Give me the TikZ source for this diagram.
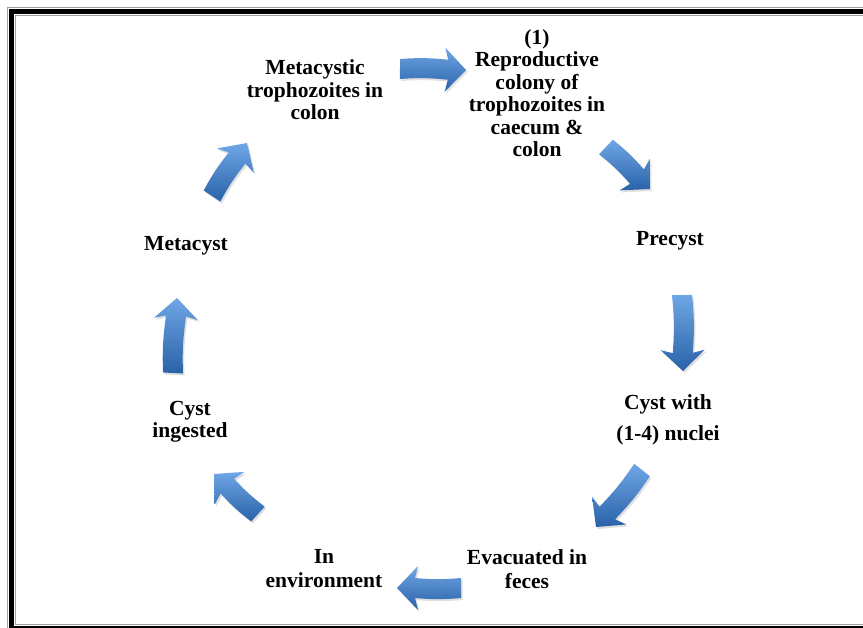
\documentclass[tikz,border=0pt]{standalone}
\usepackage{fontspec}
\setmainfont{Liberation Serif}
\usetikzlibrary{calc,shadows}

\definecolor{arrowlight}{HTML}{6FA6E6}
\definecolor{arrowmid}{HTML}{4283D2}
\definecolor{arrowdark}{HTML}{2A62A8}
\definecolor{framegray}{HTML}{A0A0A0}

\tikzset{
  stage/.style={font=\bfseries\fontsize{21.5}{22.5}\selectfont, align=center, inner sep=0pt},
  bluearrow/.style={top color=arrowlight, middle color=arrowmid, bottom color=arrowdark,
    drop shadow={opacity=0.25, shadow xshift=1.5pt, shadow yshift=-2pt}},
}

% block arrow from tail coordinate #1 to head coordinate #2
\newcommand\blockarrow[2]{%
  \path let \p1=($(#2)-(#1)$), \n1={atan2(\y1,\x1)}, \n2={veclen(\x1,\y1)} in
    \pgfextra{\xdef\barang{\n1}\xdef\barlen{\n2}};
  \begin{scope}[shift={(#1)}, rotate=\barang]
    \shade[bluearrow] (0,-10) to[bend left=5] (\barlen-18,-10) -- (\barlen-21,-22)
      -- (\barlen,0) -- (\barlen-21,22) -- (\barlen-18,10) to[bend right=5] (0,10) -- cycle;
  \end{scope}
}

\begin{document}
\begin{tikzpicture}[x=1pt, y=-1pt]
  \useasboundingbox (0,0) rectangle (863,628);
  \fill[white] (0,0) rectangle (863,628);

  % frame
  \begin{scope}
    \clip (0,0) rectangle (863,628);
    \draw[framegray, line width=0.8pt] (7,7) rectangle (900,633);
    \draw[black, line width=4.8pt] (11.8,11.8) rectangle (900,628.8);
    \draw[framegray, line width=0.8pt] (15.6,15.6) rectangle (900,624.8);
  \end{scope}

  % stages of the cycle
  \node[stage] (metatro) at (315,90) {Metacystic\\trophozoites in\\colon};
  \node[stage] (repro) at (537,93) {(1)\\Reproductive\\colony of\\trophozoites in\\caecum \&\\colon};
  \node[stage] (precyst) at (670,241) {Precyst};
  \node[stage] (cystnuc) at (668,420) {Cyst with\\[9pt](1-4) nuclei};
  \node[stage] (evac) at (527,569) {Evacuated in\\[1.5pt]feces};
  \node[stage] (inenv) at (324,569) {In\\[1.5pt]environment};
  \node[stage] (ingest) at (190,422) {Cyst\\ingested};
  \node[stage] (metacyst) at (186,246) {Metacyst};

  % arrow ends
  \coordinate (t1) at (400,69);  \coordinate (h1) at (466,70);
  \coordinate (t2) at (606,147); \coordinate (h2) at (650,189);
  \coordinate (t3) at (682,295); \coordinate (h3) at (683,371);
  \coordinate (t4) at (642,470); \coordinate (h4) at (596,527);
  \coordinate (t5) at (461,588); \coordinate (h5) at (397,588);
  \coordinate (t6) at (258,514); \coordinate (h6) at (214,474);
  \coordinate (t7) at (173,373); \coordinate (h7) at (177,298);
  \coordinate (t8) at (212,196); \coordinate (h8) at (247,143);

  \blockarrow{t1}{h1}
  \blockarrow{t2}{h2}
  \blockarrow{t3}{h3}
  \blockarrow{t4}{h4}
  \blockarrow{t5}{h5}
  \blockarrow{t6}{h6}
  \blockarrow{t7}{h7}
  \blockarrow{t8}{h8}
\end{tikzpicture}
\end{document}
